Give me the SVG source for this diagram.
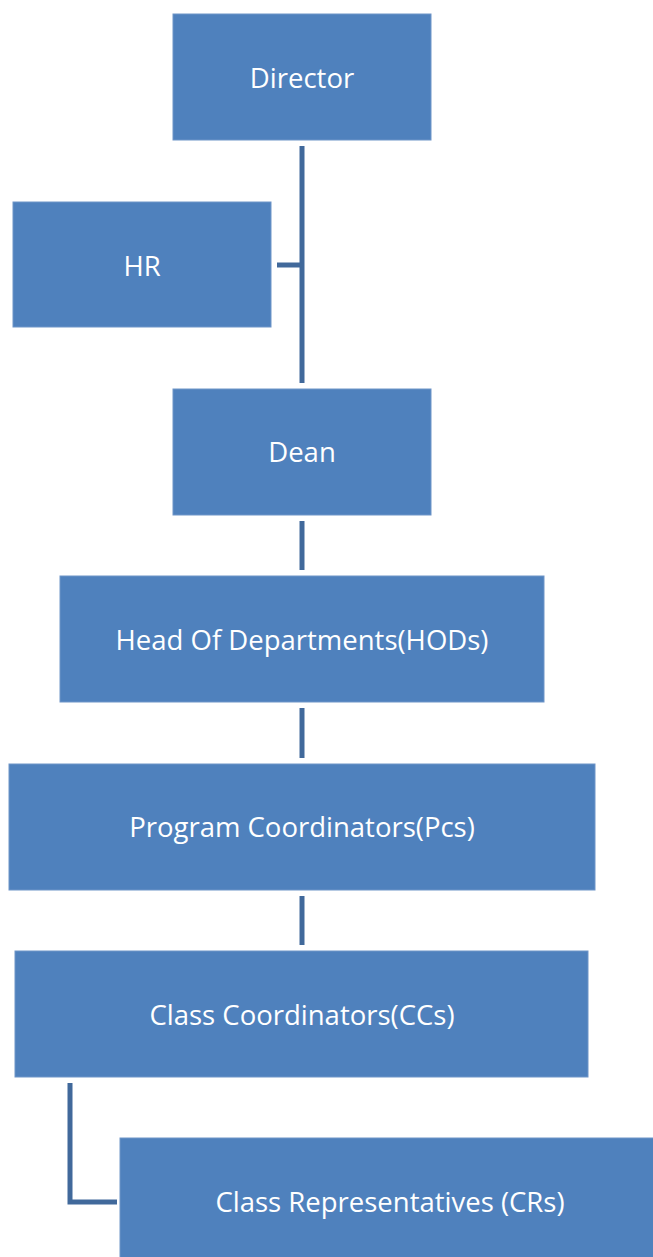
<svg xmlns="http://www.w3.org/2000/svg" width="653" height="1257" viewBox="0 0 653 1257">
<style>
.box{fill:#4f81bd;stroke:#6f95c8;stroke-width:1}
.lbl{font-family:"Open Sans","Liberation Sans",sans-serif;font-size:27.5px;fill:#ffffff;text-anchor:middle;dominant-baseline:central}
.conn{stroke:#41699b;stroke-width:5;fill:none}
</style>
<rect width="653" height="1257" fill="#ffffff"/>
<g id="connectors">
<line class="conn" x1="302" y1="146" x2="302" y2="383"/>
<line class="conn" x1="277" y1="265" x2="302" y2="265"/>
<line class="conn" x1="302" y1="521" x2="302" y2="570"/>
<line class="conn" x1="302" y1="708" x2="302" y2="758"/>
<line class="conn" x1="302" y1="896" x2="302" y2="945"/>
<polyline class="conn" points="70,1083 70,1202 117,1202"/>
</g>
<g id="director"><rect class="box" x="173" y="14" width="258" height="126"/><text class="lbl" x="302" y="77">Director</text></g>
<g id="hr"><rect class="box" x="13" y="202" width="258" height="125"/><text class="lbl" x="142" y="265">HR</text></g>
<g id="dean"><rect class="box" x="173" y="389" width="258" height="126"/><text class="lbl" x="302" y="451">Dean</text></g>
<g id="hods"><rect class="box" x="60" y="576" width="484" height="126"/><text class="lbl" x="302" y="639">Head Of Departments(HODs)</text></g>
<g id="pcs"><rect class="box" x="9" y="764" width="586" height="126"/><text class="lbl" x="302" y="826">Program Coordinators(Pcs)</text></g>
<g id="ccs"><rect class="box" x="15" y="951" width="573" height="126"/><text class="lbl" x="302" y="1014">Class Coordinators(CCs)</text></g>
<g id="crs"><rect class="box" x="120" y="1138" width="540" height="126"/><text class="lbl" x="390" y="1201">Class Representatives (CRs)</text></g>
</svg>
